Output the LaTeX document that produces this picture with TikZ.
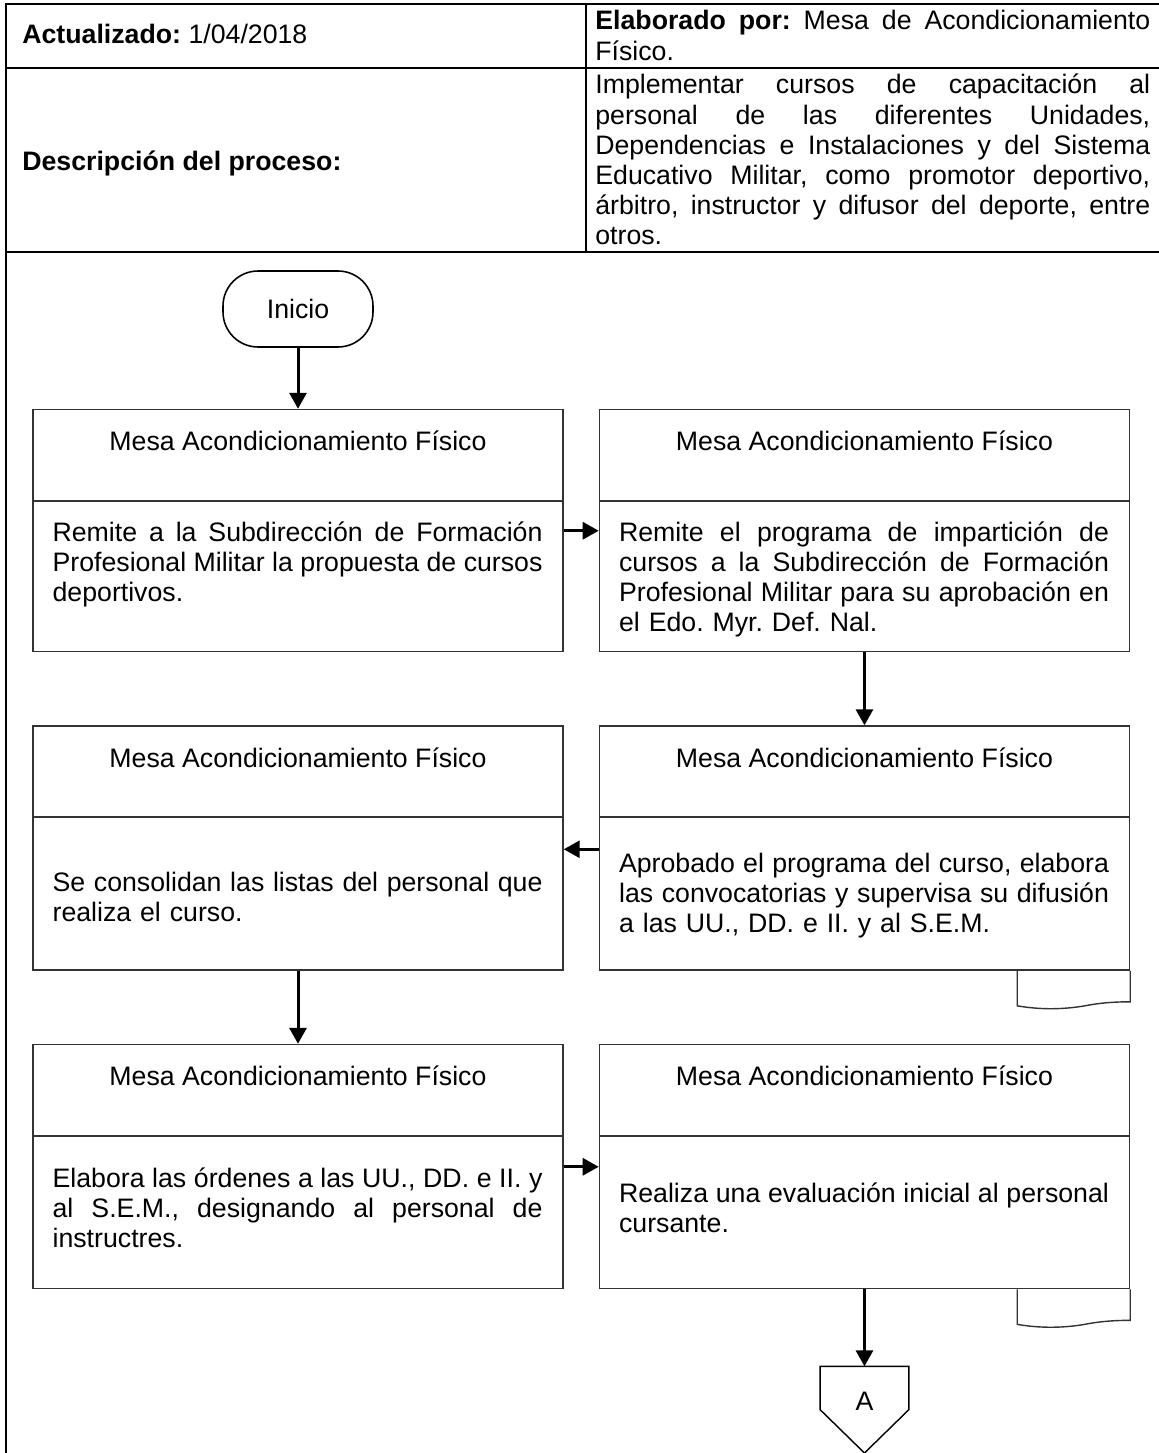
\documentclass[tikz,border=0pt]{standalone}
\usepackage{fontspec}
\setmainfont{Liberation Sans}
\usetikzlibrary{arrows.meta,positioning}

% linea justificada a todo el ancho
\newcommand{\jl}[1]{{\spaceskip=0.278em plus 1fil minus 0.1em\makebox[\hsize][s]{#1}}}

\begin{document}
\frenchspacing
\begin{tikzpicture}[x=0.02cm, y=-0.02cm,
    font=\fontsize{15.2}{17.1}\selectfont,
    tabla/.style={line width=0.8pt},
    caja/.style={draw=black!80, line width=0.9pt, minimum width=10.6cm, inner sep=0pt},
    titulo/.style={anchor=base, inner sep=0pt},
    cuerpo/.style={anchor=base west, inner sep=0pt, text width=9.8cm, align=left},
    texto/.style={anchor=base west, inner sep=0pt},
    flecha/.style={line width=0.06cm, -{Triangle[length=0.32cm, width=0.34cm]}},
    conector/.style={inner sep=0pt, minimum width=1.76cm, text height=0.88cm, text depth=0.84cm},
    hoja/.style={draw=black!80, line width=0.8pt},
    node distance=1.46cm and 0.7cm,
]
\useasboundingbox (0,0) rectangle (1159,1453);

% encabezado
\draw[tabla] (6,1453) -- (6,4) -- (1159,4);
\draw[tabla] (6,68) -- (1159,68);
\draw[tabla] (6,252) -- (1159,252);
\draw[tabla] (586,4) -- (586,252);

\node[texto] (actualizado) at (22,44) {\textbf{Actualizado:} 1/04/2018};
\node[texto] (descripcion) at (22,171) {\textbf{Descripción del proceso:}};
\node[texto, text width=11.1cm, align=left] (elaborado) at (595,30)
    {\jl{\textbf{Elaborado por:} Mesa de Acondicionamiento}\\ Físico.};
\node[texto, text width=11.1cm, align=left] (objetivo) at (595,94)
    {\jl{Implementar cursos de capacitación al}\\
     \jl{personal de las diferentes Unidades,}\\
     \jl{Dependencias e Instalaciones y del Sistema}\\
     \jl{Educativo Militar, como promotor deportivo,}\\
     \jl{árbitro, instructor y difusor del deporte, entre}\\
     otros.};

% diagrama
\node[draw, line width=0.9pt, rounded corners=0.7cm, minimum width=3cm, minimum height=1.52cm] (inicio) at (298,309) {Inicio};

\node[caja, minimum height=4.84cm, below=1.22cm of inicio] (b1) {};
\node[caja, minimum height=4.84cm, right=of b1] (b2) {};
\node[caja, minimum height=4.88cm, below=of b2] (b4) {};
\node[caja, minimum height=4.88cm, left=of b4] (b3) {};
\node[caja, minimum height=4.88cm, below=of b3] (b5) {};
\node[caja, minimum height=4.88cm, right=of b5] (b6) {};

\foreach \b in {b1,b2,b3,b4,b5,b6} {
  \draw[draw=black!80, line width=0.9pt] ([yshift=-1.84cm]\b.north west) -- ([yshift=-1.84cm]\b.north east);
  \node[titulo] (t\b) at ([yshift=-0.84cm]\b.north) {Mesa Acondicionamiento Físico};
}

\node[cuerpo] (c1) at ([shift={(0.4cm,-2.66cm)}]b1.north west)
    {\jl{Remite a la Subdirección de Formación}\\
     \jl{Profesional Militar la propuesta de cursos}\\
     deportivos.};
\node[cuerpo] (c2) at ([shift={(0.4cm,-2.66cm)}]b2.north west)
    {\jl{Remite el programa de impartición de}\\
     \jl{cursos a la Subdirección de Formación}\\
     \jl{Profesional Militar para su aprobación en}\\
     el Edo. Myr. Def. Nal.};
\node[cuerpo] (c3) at ([shift={(0.4cm,-3.32cm)}]b3.north west)
    {\jl{Se consolidan las listas del personal que}\\
     realiza el curso.};
\node[cuerpo] (c4) at ([shift={(0.4cm,-2.94cm)}]b4.north west)
    {\jl{Aprobado el programa del curso, elabora}\\
     \jl{las convocatorias y supervisa su difusión}\\
     a las UU., DD. e II. y al S.E.M.};
\node[cuerpo] (c5) at ([shift={(0.4cm,-2.88cm)}]b5.north west)
    {\jl{Elabora las órdenes a las UU., DD. e II. y}\\
     \jl{al S.E.M., designando al personal de}\\
     instructres.};
\node[cuerpo] (c6) at ([shift={(0.4cm,-3.18cm)}]b6.north west)
    {\jl{Realiza una evaluación inicial al personal}\\
     cursante.};

% documentos
\foreach \b in {b4,b6} {
  \begin{scope}[shift={(\b.south east)}]
    \draw[hoja] (-113,0) -- (-113,35) .. controls (-90,39) and (-65,39) .. (-40,34)
        .. controls (-25,31.5) and (-12,31) .. (0,31) -- (0,0);
  \end{scope}
}

% conector fuera de pagina
\node[conector, below=1.54cm of b6] (conA) {A};
\draw[line width=0.8pt] (conA.north west) -- (conA.north east) -- (conA.east) -- (conA.south) -- (conA.west) -- cycle;

\draw[flecha] (inicio.south) -- (b1.north);
\draw[flecha] ([yshift=-2.44cm]b1.north east) -- ([yshift=-2.44cm]b2.north west);
\draw[flecha] (b2.south) -- (b4.north);
\draw[flecha] ([yshift=-2.48cm]b4.north west) -- ([yshift=-2.48cm]b3.north east);
\draw[flecha] (b3.south) -- (b5.north);
\draw[flecha] ([yshift=-2.46cm]b5.north east) -- ([yshift=-2.46cm]b6.north west);
\draw[flecha] (b6.south) -- (conA.north);
\end{tikzpicture}
\end{document}
